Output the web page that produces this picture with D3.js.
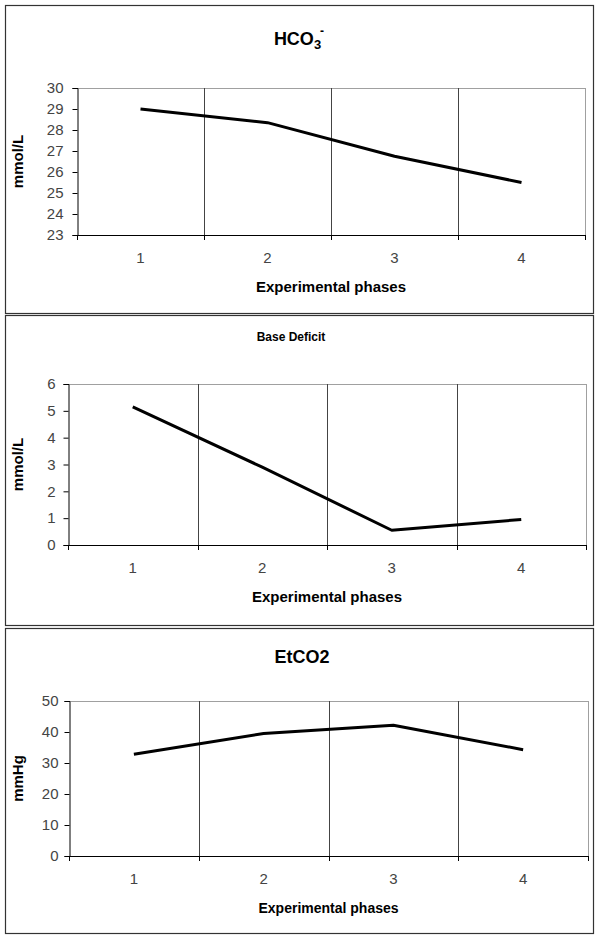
<!DOCTYPE html>
<html>
<head>
<meta charset="utf-8">
<script src="https://cdn.jsdelivr.net/npm/d3@7"></script>
<style>
  html, body { margin: 0; padding: 0; background: #fff; }
  svg { display: block; font-family: Arial, "Liberation Sans", sans-serif; }
</style>
</head>
<body>
<svg id="chart" width="600" height="935"></svg>
<script>
// ---- data ----
const categories = ["1", "2", "3", "4"];
const hco3Values = [29.0, 28.35, 26.75, 25.5];
const baseDeficitValues = [5.15, 2.9, 0.55, 0.95];
const etco2Values = [32.8, 39.5, 42.2, 34.3];
const hco3Ticks = [23, 24, 25, 26, 27, 28, 29, 30];
const baseDeficitTicks = [0, 1, 2, 3, 4, 5, 6];
const etco2Ticks = [0, 10, 20, 30, 40, 50];
const yAxisTitles = ["mmol/L", "mmol/L", "mmHg"];
const xAxisTitle = "Experimental phases";
const panelTitles = ["HCO3-", "Base Deficit", "EtCO2"];

const svg = d3.select("#chart");

const panels = [
  { box: [5, 5, 588, 308], plot: [77, 585, 88, 235], values: hco3Values, ticks: hco3Ticks,
    title: panelTitles[0], titleX: 299, titleY: 45, titleSize: 18, yTitle: yAxisTitles[0], pad: 9, xTitleSize: 15 },
  { box: [5, 315, 588, 310], plot: [68, 586, 384, 545], values: baseDeficitValues, ticks: baseDeficitTicks,
    title: panelTitles[1], titleX: 291, titleY: 341, titleSize: 12, yTitle: yAxisTitles[1], pad: 8, xTitleSize: 15 },
  { box: [5, 628, 588, 305], plot: [69, 588, 701, 856], values: etco2Values, ticks: etco2Ticks,
    title: panelTitles[2], titleX: 302, titleY: 663, titleSize: 18, yTitle: yAxisTitles[2], pad: 6, xTitleSize: 14 }
];

panels.forEach((p, i) => {
  const g = svg.append("g");
  const [bx, by, bw, bh] = p.box;
  g.append("rect").attr("x", bx + 0.5).attr("y", by + 0.5).attr("width", bw).attr("height", bh)
    .attr("fill", "#fff").attr("stroke", "#333").attr("stroke-width", 1.2);

  const [x0, x1, y0, y1] = p.plot;
  const x = d3.scaleBand().domain(categories).range([x0, x1]).padding(0);
  const y = d3.scaleLinear().domain([d3.min(p.ticks), d3.max(p.ticks)]).range([y1, y0]);

  // plot area border (top & right, gray)
  g.append("line").attr("x1", x0).attr("x2", x1).attr("y1", y0 + 0.5).attr("y2", y0 + 0.5)
    .attr("stroke", "#a0a0a0").attr("stroke-width", 1);
  g.append("line").attr("x1", x1 + 0.5).attr("x2", x1 + 0.5).attr("y1", y0).attr("y2", y1)
    .attr("stroke", "#a0a0a0").attr("stroke-width", 1);

  // vertical gridlines at category boundaries
  g.selectAll(".grid").data(categories.slice(1)).enter().append("line")
    .attr("x1", d => Math.round(x(d)) + 0.5).attr("x2", d => Math.round(x(d)) + 0.5)
    .attr("y1", y0).attr("y2", y1)
    .attr("stroke", "#444").attr("stroke-width", 1);

  // y axis
  const yAxis = d3.axisLeft(y).tickValues(p.ticks).tickSize(5).tickPadding(p.pad).tickFormat(d3.format("d"));
  const ya = g.append("g").attr("transform", `translate(${x0 + 0.5},0)`).call(yAxis);
  ya.select(".domain").attr("stroke", "#000").attr("stroke-width", 1);
  ya.selectAll(".tick line").attr("stroke", "#000");
  ya.selectAll(".tick text").attr("font-size", 15).attr("fill", "#444")
    .attr("font-family", "Arial, 'Liberation Sans', sans-serif");

  // x axis: line + tick marks at boundaries + labels at centers
  g.append("line").attr("x1", x0).attr("x2", x1 + 1).attr("y1", y1 + 0.5).attr("y2", y1 + 0.5)
    .attr("stroke", "#000").attr("stroke-width", 1);
  const bounds = categories.map(c => x(c)).concat([x1]);
  g.selectAll(".xtick").data(bounds).enter().append("line")
    .attr("x1", d => Math.round(d) + 0.5).attr("x2", d => Math.round(d) + 0.5)
    .attr("y1", y1).attr("y2", y1 + 5)
    .attr("stroke", "#000");
  g.selectAll(".xlabel").data(categories).enter().append("text")
    .attr("x", d => x(d) + x.bandwidth() / 2).attr("y", y1 + 28)
    .attr("text-anchor", "middle").attr("font-size", 15).attr("fill", "#444")
    .text(d => d);

  // x axis title
  g.append("text").attr("x", (x0 + x1) / 2).attr("y", y1 + 57)
    .attr("text-anchor", "middle").attr("font-size", p.xTitleSize).attr("font-weight", "bold")
    .attr("fill", "#000").text(xAxisTitle);

  // y axis title
  g.append("text").attr("transform", `translate(23,${(y0 + y1) / 2}) rotate(-90)`)
    .attr("text-anchor", "middle").attr("font-size", 15).attr("font-weight", "bold")
    .attr("fill", "#000").text(p.yTitle);

  // title
  const t = g.append("text").attr("x", p.titleX).attr("y", p.titleY)
    .attr("text-anchor", "middle").attr("font-size", p.titleSize).attr("font-weight", "bold").attr("fill", "#000");
  if (i === 0) {
    t.append("tspan").text("HCO");
    t.append("tspan").attr("font-size", 13).attr("dy", 4).text("3");
    t.append("tspan").attr("font-size", 12).attr("dy", -14).attr("dx", -1).text("-");
  } else {
    t.text(p.title);
  }

  // line
  const line = d3.line()
    .x((d, j) => x(categories[j]) + x.bandwidth() / 2)
    .y(d => y(d));
  g.append("path").datum(p.values).attr("d", line)
    .attr("fill", "none").attr("stroke", "#000").attr("stroke-width", 3)
    .attr("stroke-linejoin", "round");
});
</script>
</body>
</html>
